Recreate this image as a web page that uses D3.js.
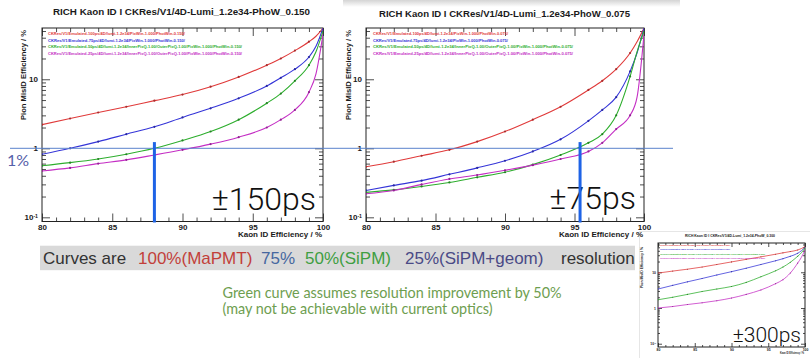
<!DOCTYPE html>
<html>
<head>
<meta charset="utf-8">
<script src="https://cdn.jsdelivr.net/npm/d3@7"></script>
<style>
  body { margin: 0; background: #fff; }
  svg { display: block; }
  .panel text { font-family: 'Liberation Sans', Arial, sans-serif; font-weight: bold; fill: #1a1a1a; }
</style>
</head>
<body>
<div id="chart"></div>
<script>
// Kaon ID efficiency (%) at which every curve is sampled
const kaonEff = [80, 82, 84, 86, 88, 90, 92, 94, 96, 97, 98, 99, 99.5, 100];

// Pion MisID efficiency (%), photon window 0.150 (+-150ps)
const misid150_100 = [2.2, 2.7, 3.3, 4.0, 4.9, 6.0, 7.8, 10.8, 16, 20, 26, 35, 42, 55];
const misid150_75  = [0.82, 1.0, 1.25, 1.6, 2.05, 2.8, 3.8, 5.3, 8.0, 10.5, 14, 21, 30, 55];
const misid150_50  = [0.56, 0.62, 0.7, 0.82, 1.0, 1.3, 1.75, 2.6, 4.5, 6.2, 9.5, 16, 25, 50];
const misid150_25  = [0.47, 0.52, 0.6, 0.68, 0.8, 0.95, 1.15, 1.45, 2.0, 2.6, 3.6, 6.5, 12, 45];

// photon window 0.075 (+-75ps)
const misid075_100 = [0.54, 0.64, 0.78, 0.95, 1.25, 1.75, 2.6, 4.0, 7.0, 9.5, 14, 24, 35, 55];
const misid075_75  = [0.245, 0.29, 0.34, 0.42, 0.52, 0.66, 0.9, 1.35, 2.5, 3.6, 5.5, 13, 24, 55];
const misid075_50  = [0.23, 0.25, 0.28, 0.32, 0.38, 0.45, 0.58, 0.8, 1.2, 1.6, 3.0, 11, 25, 50];
const misid075_25  = [0.22, 0.245, 0.30, 0.36, 0.41, 0.48, 0.57, 0.7, 0.9, 1.2, 1.9, 3.0, 5.5, 45];

// photon window 0.300 (+-300ps)
const misid300_100 = [9.5, 10.8, 12.2, 14, 16.5, 19.5, 23, 27, 32, 35, 38, 42, 46, 52];
const misid300_75  = [3.4, 4.3, 5.4, 6.7, 8.4, 10.4, 13, 16.5, 21, 24, 28, 34, 40, 50];
const misid300_50  = [1.7, 2.0, 2.4, 2.9, 3.4, 4.0, 5.2, 7.5, 11, 14, 19, 28, 35, 48];
const misid300_25  = [1.0, 1.1, 1.25, 1.4, 1.6, 1.9, 2.4, 3.2, 4.8, 6.2, 9.5, 18, 26, 42];

// series: emulated time resolution
const resolutions = ['100ps', '75ps', '50ps', '25ps'];
const seriesColors = ['#e03a3a', '#3535d8', '#2eae2e', '#c42ec4'];

// where each cut reaches 1% misID
const cutEff = { '0.150': 88.0, '0.075': 95.4 };

const bandParts = ['Curves are', '100%(MaPMT)', '75%', '50%(SiPM)', '25%(SiPM+geom)', 'resolution'];
const noteLines = ['Green curve assumes resolution improvement by 50%',
                   '(may not be achievable with current optics)'];

function legendText(res, phoW) {
  if (res === '100ps' || res === '75ps')
    return 'CKRes/V1/Emulated-' + res + '/4D/lumi-1.2e34/PixWin-1.000/PhotWin-' + phoW + '/';
  return 'CKRes/V1/Emulated-' + res + '/4D/lumi-1.2e34/InnerPixQ-1.00/OuterPixQ-1.00/PixWin-1.000/PhotWin-' + phoW + '/';
}

const width = 810, height = 358;
const svg = d3.select('#chart').append('svg')
  .attr('width', width)
  .attr('height', height);

svg.append('rect').attr('width', width).attr('height', height).attr('fill', '#fff');

// faint screenshot shadow on top of the right plot
const defs = svg.append('defs');
const grad = defs.append('linearGradient').attr('id', 'shade')
  .attr('x1', 0).attr('y1', 0).attr('x2', 0).attr('y2', 1);
grad.append('stop').attr('offset', '0%').attr('stop-color', '#d4d4d4');
grad.append('stop').attr('offset', '100%').attr('stop-color', '#ffffff');
svg.append('rect').attr('x', 343).attr('y', 0).attr('width', 337).attr('height', 7).attr('fill', 'url(#shade)');

// small inset frame
svg.append('rect').attr('x', 639.5).attr('y', 231.5).attr('width', 171).attr('height', 128)
  .attr('fill', '#fff').attr('stroke', '#e6e6e6');

const panels = [
  { id: 'p150', phoW: '0.150', data: [misid150_100, misid150_75, misid150_50, misid150_25],
    left: 42, right: 323, top: 28, bottom: 221.5, yDomain: [0.087, 55.3], s: 1,
    titleX: 181.5, titleY: 15, titleLen: 257, titleSize: 9.5,
    yLabX: 25.5, yLabTop: 30, yLabLen: 90, xLabY: 236.5, xLabLen: 84, tickFont: 8,
    legX: 48, legY: 35, legDy: 6.6, legLens: [137, 137, 194, 194], legSize: 4.2,
    note: '\u00b1150ps', noteX: 316, noteY: 209.5, noteSize: 32 },
  { id: 'p075', phoW: '0.075', data: [misid075_100, misid075_75, misid075_50, misid075_25],
    left: 366, right: 644, top: 28, bottom: 221.5, yDomain: [0.087, 55.3], s: 1,
    titleX: 504.5, titleY: 16.5, titleLen: 251, titleSize: 9.5,
    yLabX: 350.5, yLabTop: 30, yLabLen: 90, xLabY: 237.3, xLabLen: 84, tickFont: 8,
    legX: 373, legY: 35, legDy: 6.6, legLens: [135, 135, 200, 200], legSize: 4.2,
    note: '\u00b175ps', noteX: 636, noteY: 208.5, noteSize: 32 },
  { id: 'p300', phoW: '0.300', data: [misid300_100, misid300_75, misid300_50, misid300_25],
    left: 658, right: 805, top: 243, bottom: 347, yDomain: [0.081, 66], s: 0.5,
    titleX: 730, titleY: 236.5, titleLen: 90, titleSize: 3.6,
    yLabX: 643, yLabTop: 247, yLabLen: 41, xLabY: 354, xLabLen: 24, tickFont: 3.4,
    legX: 660, legY: 246, legDy: 4.3, legLens: [70, 70, 105, 105], legSize: 2.2,
    note: '\u00b1300ps', noteX: 801, noteY: 341.5, noteSize: 21 }
];

panels.forEach(p => drawPanel(p));

function drawPanel(p) {
  const x = d3.scaleLinear().domain([80, 100]).range([p.left, p.right]);
  const y = d3.scaleLog().domain(p.yDomain).range([p.bottom, p.top]);
  const s = p.s;
  const g = svg.append('g').attr('class', 'panel');

  defs.append('clipPath').attr('id', 'clip-' + p.id)
    .append('rect')
      .attr('x', p.left).attr('y', p.top)
      .attr('width', p.right - p.left).attr('height', p.bottom - p.top);

  // Title
  g.append('text')
    .attr('x', p.titleX).attr('y', p.titleY)
    .attr('text-anchor', 'middle')
    .attr('font-size', p.titleSize + 'px')
    .attr('textLength', p.titleLen).attr('lengthAdjust', 'spacingAndGlyphs')
    .text('RICH Kaon ID I CKRes/V1/4D-Lumi_1.2e34-PhoW_' + p.phoW);

  const xMajor = [80, 85, 90, 95, 100];
  const xMinor = d3.range(81, 100).filter(d => d % 5 !== 0);
  const yMajor = [0.1, 1, 10];
  const yMinor = [];
  [0.1, 1, 10].forEach(dec => d3.range(2, 10).forEach(k => {
    const v = +(dec * k).toPrecision(3);
    if (v > p.yDomain[0] && v < p.yDomain[1]) yMinor.push(v);
  }));

  const major = 8 * s, minor = 4 * s;

  // Bottom / top ticks
  const xb = g.append('g').attr('class', 'axis axis--x')
    .attr('transform', 'translate(0,' + p.bottom + ')')
    .call(d3.axisBottom(x).tickValues(xMajor).tickSizeInner(-major).tickSizeOuter(0)
      .tickPadding(3 * s).tickFormat(d3.format('d')));
  xb.selectAll('text').attr('font-size', p.tickFont + 'px');
  g.append('g').attr('transform', 'translate(0,' + p.bottom + ')')
    .call(d3.axisBottom(x).tickValues(xMinor).tickSizeInner(-minor).tickSizeOuter(0).tickFormat(''));
  g.append('g').attr('transform', 'translate(0,' + p.top + ')')
    .call(d3.axisTop(x).tickValues(xMajor).tickSizeInner(-major).tickSizeOuter(0).tickFormat(''));
  g.append('g').attr('transform', 'translate(0,' + p.top + ')')
    .call(d3.axisTop(x).tickValues(xMinor).tickSizeInner(-minor).tickSizeOuter(0).tickFormat(''));

  // Left / right ticks
  const yl = g.append('g').attr('class', 'axis axis--y')
    .attr('transform', 'translate(' + p.left + ',0)')
    .call(d3.axisLeft(y).tickValues(yMajor).tickSizeInner(-major).tickSizeOuter(0)
      .tickPadding(4 * s).tickFormat(d => d < 1 ? '10' : d3.format('d')(d)));
  yl.selectAll('text').attr('font-size', p.tickFont + 'px');
  yl.selectAll('.tick text').filter(d => d < 1)
    .append('tspan').attr('dy', '-0.45em').attr('font-size', '0.65em').text('-1');
  g.append('g').attr('transform', 'translate(' + p.left + ',0)')
    .call(d3.axisLeft(y).tickValues(yMinor).tickSizeInner(-minor).tickSizeOuter(0).tickFormat(''));
  g.append('g').attr('transform', 'translate(' + p.right + ',0)')
    .call(d3.axisRight(y).tickValues(yMajor).tickSizeInner(-major).tickSizeOuter(0).tickFormat(''));
  g.append('g').attr('transform', 'translate(' + p.right + ',0)')
    .call(d3.axisRight(y).tickValues(yMinor).tickSizeInner(-minor).tickSizeOuter(0).tickFormat(''));

  g.selectAll('.domain').remove();
  g.selectAll('.tick line').attr('stroke', '#222').attr('stroke-width', 0.8);

  // Frame
  g.append('rect')
    .attr('x', p.left).attr('y', p.top)
    .attr('width', p.right - p.left).attr('height', p.bottom - p.top)
    .attr('fill', 'none').attr('stroke', '#222').attr('stroke-width', 1);

  // Axis titles
  g.append('text')
    .attr('transform', 'translate(' + p.yLabX + ',' + p.yLabTop + ') rotate(-90)')
    .attr('text-anchor', 'end')
    .attr('font-size', (p.tickFont * 0.95) + 'px')
    .attr('textLength', p.yLabLen).attr('lengthAdjust', 'spacingAndGlyphs')
    .text('Pion MisID Efficiency / %');
  g.append('text')
    .attr('x', p.right - 1).attr('y', p.xLabY)
    .attr('text-anchor', 'end')
    .attr('font-size', p.tickFont + 'px')
    .attr('textLength', p.xLabLen).attr('lengthAdjust', 'spacingAndGlyphs')
    .text('Kaon ID Efficiency / %');

  // Curves
  const line = d3.line()
    .x(d => x(d[0]))
    .y(d => y(d[1]))
    .curve(d3.curveMonotoneX);

  const curves = g.append('g').attr('class', 'lines').attr('clip-path', 'url(#clip-' + p.id + ')');
  p.data.forEach((vals, i) => {
    const pts = kaonEff.map((e, j) => [e, vals[j]]);
    curves.append('path')
      .attr('d', line(pts))
      .attr('fill', 'none')
      .attr('stroke', seriesColors[i])
      .attr('stroke-width', 1.1 * Math.max(s, 0.7))
      .attr('stroke-linejoin', 'round');
    curves.selectAll(null)
      .data(pts.filter(d => d[0] < 99.5))
      .enter().append('circle')
        .attr('cx', d => x(d[0]))
        .attr('cy', d => y(d[1]))
        .attr('r', 1.1 * s)
        .attr('fill', d3.color(seriesColors[i]).darker(0.8));
  });

  // Legend lines
  resolutions.forEach((res, i) => {
    g.append('text')
      .attr('x', p.legX).attr('y', p.legY + i * p.legDy)
      .attr('font-size', p.legSize + 'px')
      .attr('textLength', p.legLens[i]).attr('lengthAdjust', 'spacingAndGlyphs')
      .style('fill', seriesColors[i])
      .text(legendText(res, p.phoW));
  });

  // Big timing label
  g.append('text')
    .attr('x', p.noteX).attr('y', p.noteY)
    .attr('text-anchor', 'end')
    .attr('font-size', p.noteSize + 'px')
    .style('font-family', 'Roboto, sans-serif')
    .style('font-weight', '300')
    .style('fill', '#111')
    .text(p.note);

  p.x = x;
  p.y = y;
}

// 1% reference line across both main plots
const yMain = panels[0].y;
svg.append('line')
  .attr('x1', 10).attr('x2', 673)
  .attr('y1', yMain(1)).attr('y2', yMain(1))
  .attr('stroke', '#5a82cc').attr('stroke-width', 1);

svg.append('text')
  .attr('x', 7).attr('y', 166)
  .attr('font-family', 'Lato, sans-serif')
  .attr('font-size', '16px')
  .attr('fill', '#5560a8')
  .text('1%');

// cut markers
[panels[0], panels[1]].forEach(p => {
  svg.append('line')
    .attr('x1', p.x(cutEff[p.phoW])).attr('x2', p.x(cutEff[p.phoW]))
    .attr('y1', p.y(1.23)).attr('y2', p.bottom + 1)
    .attr('stroke', '#1e63e6').attr('stroke-width', 3);
});

// resolution band
svg.append('rect')
  .attr('x', 40).attr('y', 245.7).attr('width', 595).attr('height', 24.5)
  .attr('fill', '#d9d9d9');
const bandX = [43, 138, 261, 305, 405, 561];
const bandColors = ['#333', '#c23f3a', '#46679f', '#3f9e42', '#4a4a86', '#333'];
bandParts.forEach((t, i) => {
  svg.append('text')
    .attr('x', bandX[i]).attr('y', 264)
    .attr('font-family', "'Liberation Sans', Arial, sans-serif")
    .attr('font-size', '17px')
    .attr('fill', bandColors[i])
    .text(t);
});

// note
noteLines.forEach((t, i) => {
  svg.append('text')
    .attr('x', 222.5).attr('y', 297.5 + i * 16)
    .attr('font-family', 'Lato, sans-serif')
    .attr('font-size', '14.4px')
    .attr('fill', '#6e9e50')
    .text(t);
});
</script>
</body>
</html>
